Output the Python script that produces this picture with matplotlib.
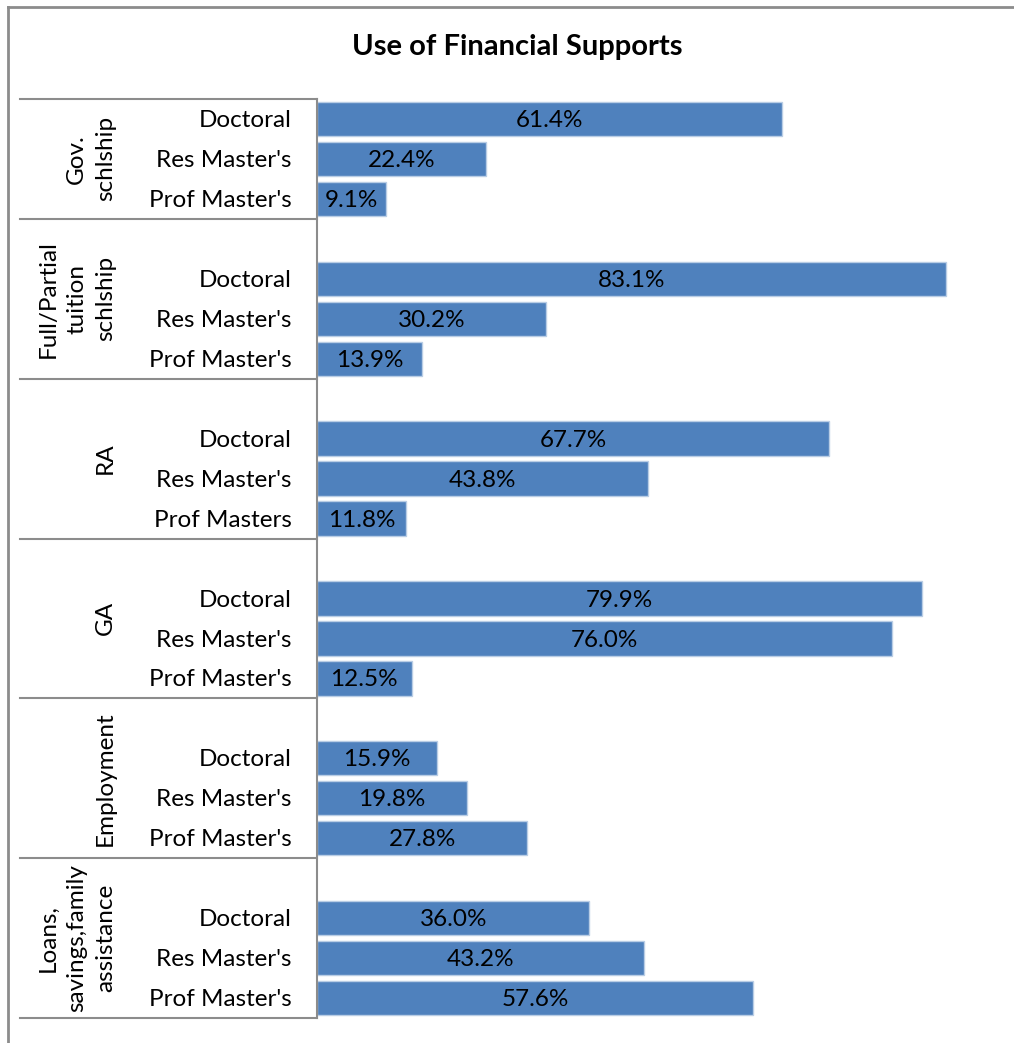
import matplotlib.pyplot as plt
from matplotlib.lines import Line2D
from matplotlib.transforms import blended_transform_factory

plt.rcParams['font.family'] = ['Lato', 'DejaVu Sans']

groups = ["Gov.\nschlship", "Full/Partial\ntuition\nschlship", "RA", "GA",
          "Employment", "Loans,\nsavings,family\nassistance"]
levels = [["Doctoral", "Res Master's", "Prof Master's"],
          ["Doctoral", "Res Master's", "Prof Master's"],
          ["Doctoral", "Res Master's", "Prof Masters"],
          ["Doctoral", "Res Master's", "Prof Master's"],
          ["Doctoral", "Res Master's", "Prof Master's"],
          ["Doctoral", "Res Master's", "Prof Master's"]]
values = [[61.4, 22.4, 9.1],
          [83.1, 30.2, 13.9],
          [67.7, 43.8, 11.8],
          [79.9, 76.0, 12.5],
          [15.9, 19.8, 27.8],
          [36.0, 43.2, 57.6]]

W, H = 1014, 1043
fig = plt.figure(figsize=(W / 100, H / 100), dpi=100)
ax = fig.add_axes([317 / W, 1 - 1018 / H, 681 / W, 919 / H])

# slot layout: a blank slot before every group except the first
ypos, bounds, centers = [], [0], []
slot = 0
for gi, vals in enumerate(values):
    start = slot
    if gi > 0:
        slot += 1
    rows = []
    for v in vals:
        rows.append(slot + 0.5)
        slot += 1
    ypos.append(rows)
    bounds.append(slot)
    centers.append((start + slot) / 2)

fs = 17.5
tr = blended_transform_factory(fig.transFigure, ax.transData)
for rows, vals, labs in zip(ypos, values, levels):
    ax.barh(rows, vals, height=0.86, color='#4F81BD', edgecolor='#B9CDE5', linewidth=1)
    for y, v, lab in zip(rows, vals, labs):
        ax.text(v / 2, y + 0.04, "{:.1f}%".format(v), ha='center', va='center', fontsize=fs)
        ax.text(292 / W, y + 0.04, lab, ha='right', va='center', fontsize=fs, transform=tr)

for b in bounds:
    ax.add_line(Line2D([20 / W, 317 / W], [b, b], transform=tr, color='#8C8C8C',
                       linewidth=1.5, clip_on=False))
for g, c in zip(groups, centers):
    ax.text(116 / W, c, g, rotation=90, ha='right', va='center', multialignment='center',
            fontsize=fs, linespacing=1.45, transform=tr)

ax.set_xlim(0, 90)
ax.set_ylim(slot, 0)
for s in ['top', 'right', 'bottom']:
    ax.spines[s].set_visible(False)
ax.spines['left'].set_color('#8C8C8C')
ax.spines['left'].set_linewidth(1.5)
ax.set_xticks([])
ax.set_yticks([])

fig.text(517 / W, 1 - 47 / H, "Use of Financial Supports", ha='center', va='center',
         fontsize=21, fontweight='bold')

# outer chart frame and cut-off caption
fig.add_artist(Line2D([8 / W, 8 / W], [0, 1 - 7 / H], color='#8C8C8C', linewidth=2))
fig.add_artist(Line2D([8 / W, 1], [1 - 7 / H, 1 - 7 / H], color='#8C8C8C', linewidth=2))
fig.text(27 / W, 1 + 12 / H, "g", ha='left', va='center', fontsize=18)

fig.savefig("out.png", dpi=100)
